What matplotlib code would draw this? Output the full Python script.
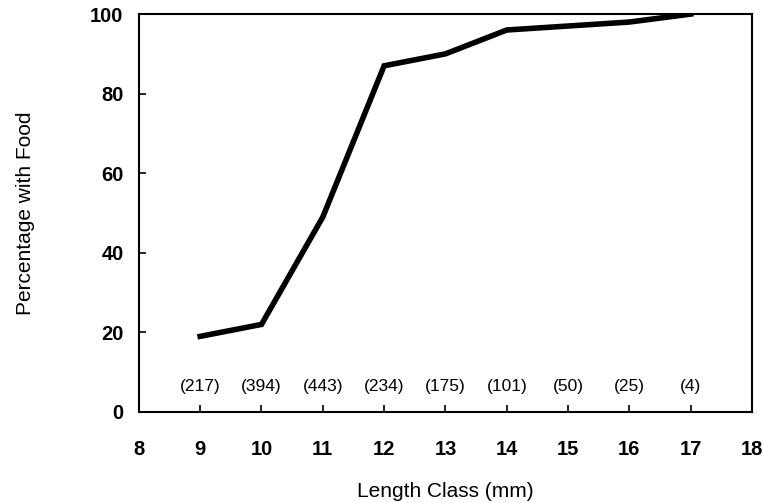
import matplotlib
matplotlib.use("Agg")
import matplotlib.pyplot as plt

# Data
length_class = [9, 10, 11, 12, 13, 14, 15, 16, 17]
pct_with_food = [19, 22, 49, 87, 90, 96, 97, 98, 100]
sample_sizes = ["(217)", "(394)", "(443)", "(234)", "(175)", "(101)", "(50)", "(25)", "(4)"]
x_ticks = list(range(8, 19))
y_ticks = [0, 20, 40, 60, 80, 100]

plt.rcParams['font.family'] = ['Liberation Sans', 'DejaVu Sans']

fig = plt.figure(figsize=(7.63, 5.03), dpi=100)
ax = fig.add_axes([0.182, 0.181, 0.8036, 0.791])

ax.plot(length_class, pct_with_food, color='black', linewidth=4, solid_joinstyle='miter')

# sample sizes under each point
for x, s in zip(length_class, sample_sizes):
    ax.text(x, 6.5, s, ha='center', va='center', fontsize=12.5)

ax.set_xlim(8, 18)
ax.set_ylim(0, 100)
ax.set_xticks(x_ticks)
ax.set_yticks(y_ticks)
ax.tick_params(direction='in', length=5, width=1.2, labelsize=14.5)
ax.tick_params(axis='x', pad=20)
ax.tick_params(axis='y', pad=11)
for lab in ax.get_xticklabels() + ax.get_yticklabels():
    lab.set_fontweight('bold')
for sp in ax.spines.values():
    sp.set_linewidth(1.5)

ax.set_xlabel('Length Class (mm)', fontsize=15, labelpad=17)
ax.set_ylabel('Percentage with Food', fontsize=15, labelpad=40)

fig.savefig('out.png', dpi=100)
